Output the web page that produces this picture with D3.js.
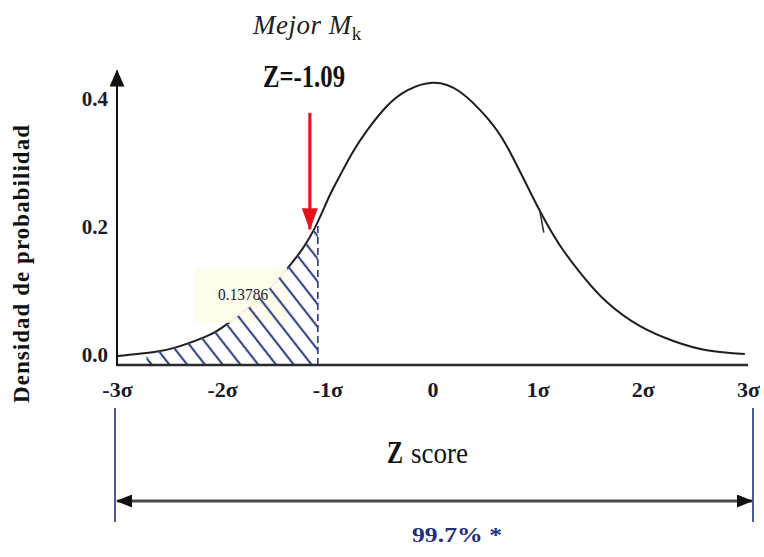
<!DOCTYPE html>
<html>
<head>
<meta charset="utf-8">
<script src="https://cdn.jsdelivr.net/npm/d3@7"></script>
<style>
body { margin: 0; background: #fff; }
svg { display: block; }
text { font-family: "Liberation Serif", "DejaVu Serif", serif; }
</style>
</head>
<body>
<div id="chart"></div>
<script>
// curve: z score -> probability density
const zValues = [-3.00, -2.66, -2.43, -2.12, -1.93, -1.64, -1.36, -1.23, -1.11, -0.98, -0.88, -0.76, -0.62,
                 -0.43, -0.24, 0.00, 0.26, 0.52, 0.71, 0.93, 1.09, 1.24, 1.43, 1.66, 1.97, 2.29, 2.61, 2.97];
const density = [0.014, 0.020, 0.028, 0.047, 0.067, 0.105, 0.155, 0.183, 0.217, 0.264, 0.296, 0.332, 0.367,
                 0.405, 0.429, 0.441, 0.427, 0.386, 0.341, 0.270, 0.220, 0.180, 0.139, 0.098, 0.061, 0.0375, 0.023, 0.017];

const xTicks = [-3, -2, -1, 0, 1, 2, 3];
const xTickLabels = ["-3σ", "-2σ", "-1σ", "0", "1σ", "2σ", "3σ"];
const yTicks = [0, 0.2, 0.4];
const yTickLabels = ["0.0", "0.2", "0.4"];

const zCut = -1.09;          // Mejor Mk
const hatchFrom = -2.72;     // left end of the shaded tail
const tailArea = "0.13786";
const coverage = "99.7% *";

const width = 764, height = 557;
const svg = d3.select("#chart").append("svg")
    .attr("width", width)
    .attr("height", height);

const x = d3.scaleLinear().domain([-3, 3]).range([117, 748]);
const y = d3.scaleLinear().domain([0, 0.46]).range([365, 70.6]);

const defs = svg.append("defs");

const marker = (id, color, w, h) => {
    defs.append("marker")
        .attr("id", id)
        .attr("viewBox", `0 0 ${w} ${h}`)
        .attr("refX", w - 1).attr("refY", h / 2)
        .attr("markerWidth", w).attr("markerHeight", h)
        .attr("markerUnits", "userSpaceOnUse")
        .attr("orient", "auto-start-reverse")
        .append("path")
        .attr("d", `M0,0L${w},${h / 2}L0,${h}Z`)
        .attr("fill", color);
};
marker("arrowAxis", "#111", 17, 15);
marker("arrowRed", "#e3141c", 22, 16);
marker("arrowSpan", "#111", 16, 13);

defs.append("pattern")
    .attr("id", "hatch")
    .attr("patternUnits", "userSpaceOnUse")
    .attr("width", 14).attr("height", 14)
    .attr("patternTransform", "rotate(-38)")
    .append("line")
    .attr("x1", 7).attr("y1", -1).attr("x2", 7).attr("y2", 15)
    .attr("stroke", "#3a4886")
    .attr("stroke-width", 2.2);

defs.append("clipPath").attr("id", "tailClip")
    .append("rect")
    .attr("x", x(hatchFrom)).attr("y", 0)
    .attr("width", x(zCut) - x(hatchFrom))
    .attr("height", y(0));

const idx = d3.range(zValues.length);
const line = d3.line()
    .x(i => x(zValues[i]))
    .y(i => y(density[i]))
    .curve(d3.curveNatural);
const area = d3.area()
    .x(i => x(zValues[i]))
    .y0(y(0))
    .y1(i => y(density[i]))
    .curve(d3.curveNatural);

// density curve
const curvePath = svg.append("path")
    .datum(idx)
    .attr("d", line)
    .attr("fill", "none")
    .attr("stroke", "#1e1e1e")
    .attr("stroke-width", 2);

// find the curve height at a given pixel x on the drawn path
const node = curvePath.node();
const total = node.getTotalLength();
const pointAtX = px => {
    let lo = 0, hi = total;
    for (let k = 0; k < 40; k++) {
        const mid = (lo + hi) / 2;
        if (node.getPointAtLength(mid).x < px) lo = mid; else hi = mid;
    }
    return node.getPointAtLength(lo);
};

// pale label box that sits over the curve
const box = svg.append("rect")
    .attr("x", x(-2.26)).attr("y", y(0.152))
    .attr("width", x(-1.38) - x(-2.26))
    .attr("height", y(0.066) - y(0.152))
    .attr("fill", "#fefdea")
    .attr("opacity", 0.95);

// shaded tail
svg.append("path")
    .datum(idx)
    .attr("d", area)
    .attr("fill", "url(#hatch)")
    .attr("clip-path", "url(#tailClip)");

const cutPt = pointAtX(x(zCut));
svg.append("line")
    .attr("x1", x(zCut)).attr("x2", x(zCut))
    .attr("y1", y(0)).attr("y2", cutPt.y)
    .attr("stroke", "#2c3a7c")
    .attr("stroke-width", 1.6)
    .attr("stroke-dasharray", "7,4");

svg.append("text")
    .attr("x", +box.attr("x") + (+box.attr("width")) / 2 + 2)
    .attr("y", +box.attr("y") + 32)
    .attr("text-anchor", "middle")
    .attr("font-size", 17)
    .attr("textLength", 50)
    .attr("lengthAdjust", "spacingAndGlyphs")
    .attr("fill", "#1d1d2e")
    .text(tailArea);

// small barb at +1σ
const barb = pointAtX(x(1.02));
svg.append("line")
    .attr("x1", barb.x).attr("y1", barb.y)
    .attr("x2", barb.x + 4).attr("y2", barb.y + 22)
    .attr("stroke", "#333")
    .attr("stroke-width", 1.6);

// axes
svg.append("line")
    .attr("x1", x(-3)).attr("x2", x(3))
    .attr("y1", y(0)).attr("y2", y(0))
    .attr("stroke", "#2a2a2a")
    .attr("stroke-width", 2.6);

svg.append("line")
    .attr("x1", x(-3)).attr("x2", x(-3))
    .attr("y1", y(0) + 1).attr("y2", y(0.46))
    .attr("stroke", "#111")
    .attr("stroke-width", 2)
    .attr("marker-end", "url(#arrowAxis)");

const xAxis = svg.append("g")
    .attr("transform", `translate(0,${y(0)})`)
    .call(d3.axisBottom(x).tickValues(xTicks).tickSize(0).tickPadding(16)
        .tickFormat((d, i) => xTickLabels[i]));
xAxis.select(".domain").remove();
xAxis.selectAll("text")
    .attr("font-size", 22)
    .attr("font-weight", "bold")
    .attr("fill", "#1a1a2a");

const yAxis = svg.append("g")
    .attr("transform", `translate(${x(-3)},0)`)
    .call(d3.axisLeft(y).tickValues(yTicks).tickSize(0).tickPadding(9)
        .tickFormat((d, i) => yTickLabels[i]));
yAxis.select(".domain").remove();
yAxis.selectAll("text")
    .attr("transform", "translate(0,-10)")
    .attr("font-size", 21)
    .attr("font-weight", "bold")
    .attr("fill", "#1a1a2a");

svg.append("text")
    .attr("transform", "translate(29,264) rotate(-90)")
    .attr("text-anchor", "middle")
    .attr("font-size", 23)
    .attr("font-weight", "bold")
    .attr("textLength", 278)
    .attr("lengthAdjust", "spacing")
    .attr("fill", "#111")
    .text("Densidad de probabilidad");

// red arrow pointing at the cut
const arrowX = x(zCut) - 8;
svg.append("line")
    .attr("x1", arrowX).attr("x2", arrowX)
    .attr("y1", y(0.394)).attr("y2", y(0.212))
    .attr("stroke", "#e3141c")
    .attr("stroke-width", 3.2)
    .attr("marker-end", "url(#arrowRed)");

// titles above
const title = svg.append("text")
    .attr("x", 253).attr("y", 34)
    .attr("fill", "#222");
title.append("tspan")
    .attr("font-size", 27)
    .attr("font-style", "italic")
    .attr("letter-spacing", 0.5)
    .text("Mejor M");
title.append("tspan")
    .attr("font-size", 19)
    .attr("dy", 6)
    .text("k");

svg.append("text")
    .attr("x", 263).attr("y", 87)
    .attr("font-size", 32)
    .attr("font-weight", "bold")
    .attr("textLength", 82)
    .attr("lengthAdjust", "spacingAndGlyphs")
    .attr("fill", "#111")
    .text("Z=" + zCut.toFixed(2));

// span of ±3σ underneath
[-3, 3].forEach(v => {
    svg.append("line")
        .attr("x1", x(v) + (v < 0 ? -2 : 5)).attr("x2", x(v) + (v < 0 ? -2 : 5))
        .attr("y1", 408).attr("y2", 522)
        .attr("stroke", "#22307a")
        .attr("stroke-width", 1.6);
});
svg.append("line")
    .attr("x1", x(-3)).attr("x2", x(3) + 4)
    .attr("y1", 501).attr("y2", 501)
    .attr("stroke", "#4a4a4a")
    .attr("stroke-width", 3)
    .attr("marker-start", "url(#arrowSpan)")
    .attr("marker-end", "url(#arrowSpan)");

svg.append("text")
    .attr("x", 387).attr("y", 463)
    .attr("font-size", 31)
    .attr("font-weight", "bold")
    .attr("textLength", 16)
    .attr("lengthAdjust", "spacingAndGlyphs")
    .attr("fill", "#111")
    .text("Z");
svg.append("text")
    .attr("x", 411).attr("y", 463)
    .attr("font-size", 30)
    .attr("textLength", 57)
    .attr("lengthAdjust", "spacingAndGlyphs")
    .attr("fill", "#111")
    .text("score");

svg.append("text")
    .attr("x", 412).attr("y", 542)
    .attr("font-size", 22)
    .attr("font-weight", "bold")
    .attr("textLength", 90)
    .attr("lengthAdjust", "spacingAndGlyphs")
    .attr("fill", "#23307a")
    .text(coverage);
</script>
</body>
</html>
